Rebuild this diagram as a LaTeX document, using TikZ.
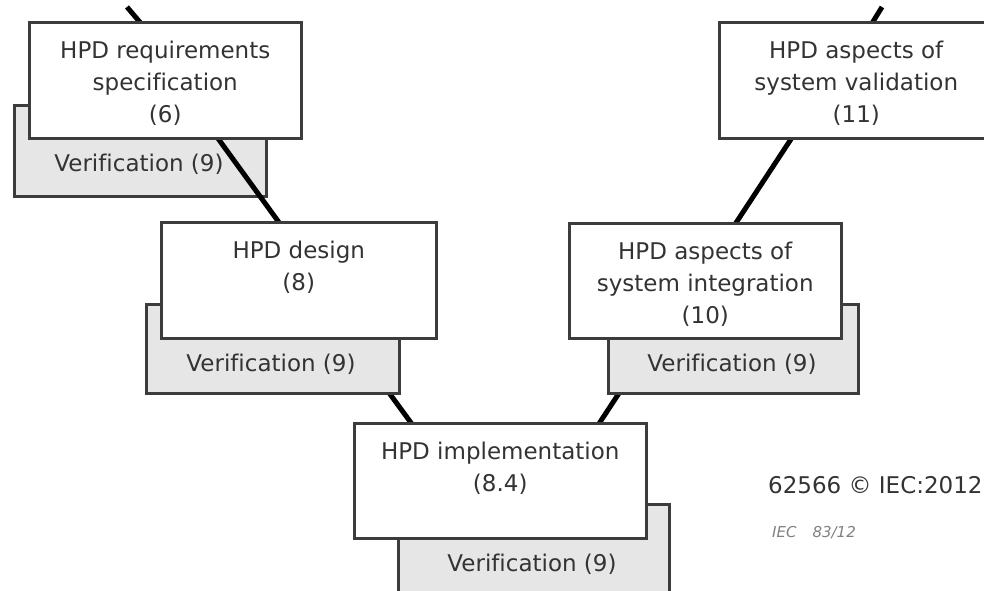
\documentclass[tikz,border=0pt]{standalone}
\usepackage{fontspec}
\setmainfont[Ligatures=NoCommon]{DejaVu Sans}
\usetikzlibrary{calc}
\definecolor{edge}{HTML}{3C3C3C}
\definecolor{verfill}{HTML}{E6E6E6}
\definecolor{txtc}{HTML}{333333}
\begin{document}
\begin{tikzpicture}[x=1pt,y=-1pt,
  mainbox/.style={draw=edge, line width=2.5pt, fill=white, anchor=north west, inner sep=0pt},
  verbox/.style={draw=edge, line width=2.5pt, fill=verfill, anchor=north west, inner sep=0pt},
  lbl/.style={align=center, inner sep=0pt, text=txtc, font=\fontsize{23}{32}\selectfont},
  link/.style={line width=5pt, black}]
\useasboundingbox (0,0) rectangle (984,590);
\clip (0,0) rectangle (984,590);

% positions of box shapes (not drawn yet)
\path node[mainbox, draw=none, fill=none, minimum width=272pt, minimum height=116pt] (req) at (28,21) {}
      node[mainbox, draw=none, fill=none, minimum width=275pt, minimum height=116pt] (des) at (160,221) {}
      node[mainbox, draw=none, fill=none, minimum width=272pt, minimum height=115pt] (integ) at (568,222) {}
      node[mainbox, draw=none, fill=none, minimum width=292pt, minimum height=115pt] (impl) at (353,422) {}
      node[mainbox, draw=none, fill=none, minimum width=274pt, minimum height=116pt] (val) at (718,21) {};
\path node[verbox, draw=none, fill=none, minimum width=252pt, minimum height=91pt] (rver) at (13,104) {}
      node[verbox, draw=none, fill=none, minimum width=253pt, minimum height=89pt] (dver) at (145,303) {}
      node[verbox, draw=none, fill=none, minimum width=250pt, minimum height=89pt] (iver) at (607,303) {}
      node[verbox, draw=none, fill=none, minimum width=271pt, minimum height=89pt] (mver) at (397,503) {};

% connectors below the verification boxes
\draw[link, shorten <=-12pt, shorten >=-4pt] ($(dver.south west)!0.96!(dver.south east)$) -- ($(impl.north west)!0.195!(impl.north east)$);
\draw[link, shorten <=-12pt, shorten >=-4pt] ($(iver.south west)!0.044!(iver.south east)$) -- ($(impl.north west)!0.839!(impl.north east)$);

% verification boxes
\node[verbox, minimum width=252pt, minimum height=91pt] (rverb) at (13,104) {};
\node[verbox, minimum width=253pt, minimum height=89pt] (dverb) at (145,303) {};
\node[verbox, minimum width=250pt, minimum height=89pt] (iverb) at (607,303) {};
\node[verbox, minimum width=271pt, minimum height=89pt] (mverb) at (397,503) {};

\node[lbl] (rvt) at (139,164) {Verification (9)};
\node[lbl] (dvt) at (271,364) {Verification (9)};
\node[lbl] (ivt) at (732,364) {Verification (9)};
\node[lbl] (mvt) at (532,564) {Verification (9)};

% connectors above the verification boxes
\coordinate (ltop) at (127,7);
\coordinate (rtop) at (882,7);
\draw[link, shorten >=-4pt] (ltop) -- ($(req.north west)!0.404!(req.north east)$);
\draw[link, shorten <=-4pt, shorten >=-4pt] ($(req.south west)!0.695!(req.south east)$) -- ($(des.north west)!0.425!(des.north east)$);
\draw[link, shorten >=-4pt] (rtop) -- ($(val.north west)!0.562!(val.north east)$);
\draw[link, shorten <=-4pt, shorten >=-4pt] ($(val.south west)!0.263!(val.south east)$) -- ($(integ.north west)!0.614!(integ.north east)$);

% main boxes
\node[mainbox, minimum width=272pt, minimum height=116pt] (reqb) at (28,21) {};
\node[mainbox, minimum width=275pt, minimum height=116pt] (desb) at (160,221) {};
\node[mainbox, minimum width=272pt, minimum height=115pt] (integb) at (568,222) {};
\node[mainbox, minimum width=292pt, minimum height=115pt] (implb) at (353,422) {};
\node[mainbox, minimum width=274pt, minimum height=116pt] (valb) at (718,21) {};

\node[lbl, anchor=north] (reqt) at ($(req.north)+(0,20)$) {HPD requirements\\specification\\(6)};
\node[lbl, anchor=north] (dest) at ($(des.north)+(0,20)$) {HPD design\\(8)};
\node[lbl, anchor=north] (integt) at ($(integ.north)+(0,20)$) {HPD aspects of\\system integration\\(10)};
\node[lbl, anchor=north] (implt) at ($(impl.north)+(0,20)$) {HPD implementation\\(8.4)};
\node[lbl, anchor=north] (valt) at ($(val.north)+(0,20)$) {HPD aspects of\\system validation\\(11)};

% reference texts
\node[anchor=west, inner sep=0pt, text=txtc, font=\fontsize{23}{28}\selectfont] (copyr) at (768,485) {62566 © IEC:2012};
\node[anchor=west, inner sep=0pt, text=gray, font=\fontsize{15}{18}\selectfont\itshape] (figref) at (772,533) {IEC\hspace{16pt}83/12};
\end{tikzpicture}
\end{document}
